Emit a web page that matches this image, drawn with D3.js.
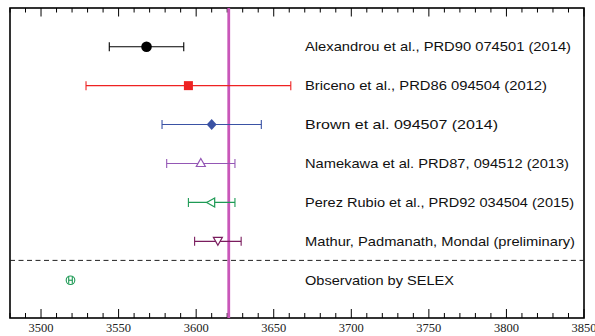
<!DOCTYPE html>
<html><head><meta charset="utf-8">
<script src="https://cdn.jsdelivr.net/npm/d3@7/dist/d3.min.js"></script>
<style>body{margin:0;background:#fff}svg{display:block}</style>
</head><body><svg id="c" width="595" height="336"></svg>
<script>
const labels = ["Alexandrou et al., PRD90 074501 (2014)","Briceno et al., PRD86 094504 (2012)","Brown et al. 094507 (2014)","Namekawa et al. PRD87, 094512 (2013)","Perez Rubio et al., PRD92 034504 (2015)","Mathur, Padmanath, Mondal (preliminary)","Observation by SELEX"];
const labelWidths = [266,242,193,264,269,270,149];
const centers = [3568,3595,3610,3603,3610,3614,3519];
const lows    = [3544,3529,3578,3581,3595,3599,null];
const highs   = [3592,3661,3642,3625,3625,3629,null];
const markers = ["circle","square","diamond","triangleUp","triangleLeft","triangleDown","circleH"];
const colors  = ["#000000","#ee2222","#3a52a4","#9457b5","#1e9a55","#7a1c5e","#1e9a55"];
const rowPos  = [1,2,3,4,5,6,7];
const refLine = 3621;
const xTicks = [3500,3550,3600,3650,3700,3750,3800,3850];

const svg = d3.select("#c");
const L=10,R=584,T=8,B=318;
const x = d3.scaleLinear().domain([3480,3850]).range([L,R]);
const y = d3.scaleLinear().domain([0,7.97]).range([7.8,B]);

svg.append("rect").attr("x",L).attr("y",T).attr("width",R-L).attr("height",B-T)
  .attr("fill","none").attr("stroke","#000").attr("stroke-width",1.6);

const minor = d3.range(3480,3851,10);
minor.forEach(v=>{
  const major = v%50===0;
  svg.append("line").attr("x1",x(v)).attr("x2",x(v)).attr("y1",B).attr("y2",B-(major?9:5)).attr("stroke","#000").attr("stroke-width",1);
  svg.append("line").attr("x1",x(v)).attr("x2",x(v)).attr("y1",T).attr("y2",T+(major?8.5:4.5)).attr("stroke","#000").attr("stroke-width",1);
});
svg.append("g").selectAll("text").data(xTicks).join("text")
  .attr("x",d=>x(d)).attr("y",B+14).attr("text-anchor","middle")
  .attr("font-family","Liberation Serif, Times New Roman, serif").attr("font-size",12.5).attr("fill","#222")
  .text(d=>d);

svg.append("line").attr("x1",L).attr("x2",R).attr("y1",y(6.49)).attr("y2",y(6.49))
  .attr("stroke","#222").attr("stroke-width",1).attr("stroke-dasharray","5,3.5");

svg.append("line").attr("x1",x(refLine)).attr("x2",x(refLine)).attr("y1",T).attr("y2",B)
  .attr("stroke","#c957b9").attr("stroke-width",2.8);

labels.forEach((lab,i)=>{
  const yy = y(rowPos[i]);
  if(lows[i]!==null){
    const g = svg.append("g").attr("stroke",colors[i]).attr("stroke-width",1.1);
    g.append("line").attr("x1",x(lows[i])).attr("x2",x(highs[i])).attr("y1",yy).attr("y2",yy);
    g.append("line").attr("x1",x(lows[i])).attr("x2",x(lows[i])).attr("y1",yy-4.5).attr("y2",yy+4.5);
    g.append("line").attr("x1",x(highs[i])).attr("x2",x(highs[i])).attr("y1",yy-4.5).attr("y2",yy+4.5);
  }
  const cx = x(centers[i]), c = colors[i];
  const m = markers[i];
  if(m==="circle") svg.append("circle").attr("cx",cx).attr("cy",yy).attr("r",5.3).attr("fill",c);
  else if(m==="square") svg.append("rect").attr("x",cx-4.5).attr("y",yy-4.5).attr("width",9).attr("height",9).attr("fill",c);
  else if(m==="diamond") svg.append("path").attr("d",`M${cx},${yy-5.5}L${cx+5},${yy}L${cx},${yy+5.5}L${cx-5},${yy}Z`).attr("fill",c);
  else if(m==="triangleUp") svg.append("path").attr("d",`M${cx},${yy-5}L${cx+4.5},${yy+3}L${cx-4.5},${yy+3}Z`).attr("fill","#fff").attr("stroke",c).attr("stroke-width",1.2);
  else if(m==="triangleLeft") svg.append("path").attr("d",`M${cx-5},${yy}L${cx+3},${yy-4.5}L${cx+3},${yy+4.5}Z`).attr("fill","#fff").attr("stroke",c).attr("stroke-width",1.2);
  else if(m==="triangleDown") svg.append("path").attr("d",`M${cx},${yy+4}L${cx+4.5},${yy-4}L${cx-4.5},${yy-4}Z`).attr("fill","#fff").attr("stroke",c).attr("stroke-width",1.2);
  else if(m==="circleH"){
    const g=svg.append("g").attr("stroke",c).attr("fill","none").attr("stroke-width",1.1);
    g.append("circle").attr("cx",cx).attr("cy",yy).attr("r",4.3);
    g.append("line").attr("x1",cx-1.8).attr("x2",cx-1.8).attr("y1",yy-3.6).attr("y2",yy+3.6);
    g.append("line").attr("x1",cx+1.8).attr("x2",cx+1.8).attr("y1",yy-3.6).attr("y2",yy+3.6);
    g.append("line").attr("x1",cx-1.8).attr("x2",cx+1.8).attr("y1",yy).attr("y2",yy);
  }
  svg.append("text").attr("x",305).attr("y",yy+4.6)
    .attr("font-family","Liberation Sans, Arial, Helvetica, sans-serif").attr("font-size",13.6).attr("fill","#111")
    .attr("textLength",labelWidths[i]).attr("lengthAdjust","spacingAndGlyphs")
    .text(lab);
});
</script></body></html>
